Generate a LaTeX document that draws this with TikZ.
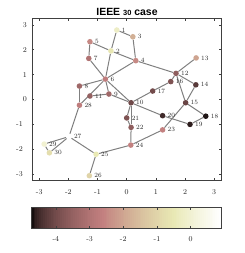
\documentclass[tikz,border=0pt]{standalone}
\usepackage{fontspec}
\newfontfamily\titlefont{Liberation Sans}
\usetikzlibrary{backgrounds}
\newcommand\pinkdef[2]{% #1 colour name, #2 t in [0,1] (MATLAB pink colormap)
  \pgfmathsetmacro\cR{sqrt((2*#2+min(1,8*#2/3))/3)}%
  \pgfmathsetmacro\cG{sqrt((2*#2+max(0,min(1,8*#2/3-1)))/3)}%
  \pgfmathsetmacro\cB{sqrt((2*#2+max(0,4*#2-3))/3)}%
  \edef\pinktmp{\noexpand\definecolor{#1}{rgb}{\cR,\cG,\cB}}\pinktmp}
\newcommand\busnode[3]{% #1 number, #2 position, #3 t
  \pinkdef{bus#1}{#3}%
  \node[bus, fill=bus#1, label={[buslabel]east:#1}] (b#1) at (#2) {};}
\begin{document}
\begin{tikzpicture}[x=1bp,y=-1bp,
  frame/.style={draw=black!75, line width=0.6bp},
  tickline/.style={draw=black!75, line width=0.5bp},
  ticklabel/.style={font=\fontsize{7.5}{8}\selectfont, text=black!85, inner sep=0pt},
  edge/.style={draw=black!50, line width=1bp},
  bus/.style={circle, minimum size=5.6bp, inner sep=0pt, draw=none},
  buslabel/.style={font=\fontsize{6.5}{7}\selectfont, text=black!85, inner sep=0.3pt, label distance=1.6bp}]
\path[use as bounding box] (0,0) rectangle (245,253);
% title
\node[anchor=base, inner sep=0pt, font=\titlefont\bfseries\fontsize{10.5}{12}\selectfont] (title) at (127,15)
  {IEEE {\fontsize{7.5}{9}\selectfont 30} case};
% axes frame and ticks
\draw[frame] (31.9,18.6) rectangle (221.5,180.4);
\foreach \v in {-3,...,3} {
  \pgfmathsetmacro\px{126.7+29.17*\v}
  \pgfmathsetmacro\py{99.5-24.9*\v}
  \draw[tickline] (\px,180.4) -- ++(0,-2.5);
  \draw[tickline] (\px,18.6) -- ++(0,2.5);
  \draw[tickline] (31.9,\py) -- ++(2.5,0);
  \draw[tickline] (221.5,\py) -- ++(-2.5,0);
  \node[ticklabel, anchor=base] (xl\v) at (\px,194.1) {\v};
  \ifnum\v<0
    \node[ticklabel, anchor=east] (yl\v) at (23,\py) {\v};
  \else
    \node[ticklabel, anchor=east] (yl\v) at (27,\py) {\v};
  \fi
}
% graph in data coordinates
\begin{scope}[shift={(126.7bp,-99.5bp)}, x=29.17bp, y=24.9bp]
\busnode{1}{-0.34,2.79}{0.80}
\busnode{2}{-0.54,1.95}{0.74}
\busnode{3}{0.21,2.52}{0.52}
\busnode{4}{0.31,1.56}{0.40}
\busnode{5}{-1.26,2.32}{0.40}
\busnode{6}{-0.73,0.82}{0.36}
\busnode{7}{-1.30,1.65}{0.305}
\busnode{8}{-1.62,0.54}{0.25}
\busnode{9}{-0.61,0.22}{0.25}
\busnode{10}{0.15,-0.13}{0.125}
\busnode{11}{-1.26,0.14}{0.22}
\busnode{12}{1.69,1.05}{0.20}
\busnode{13}{2.38,1.67}{0.48}
\busnode{14}{2.37,0.59}{0.077}
\busnode{15}{2.02,-0.13}{0.107}
\busnode{16}{1.51,0.72}{0.16}
\busnode{17}{0.89,0.34}{0.13}
\busnode{18}{2.71,-0.67}{0.01}
\busnode{19}{2.17,-1.0}{0.02}
\busnode{20}{1.23,-0.65}{0.04}
\busnode{21}{0.0,-0.74}{0.16}
\busnode{22}{0.15,-1.12}{0.20}
\busnode{23}{1.23,-1.22}{0.38}
\busnode{24}{0.14,-1.83}{0.38}
\busnode{25}{-1.05,-2.2}{0.75}
\busnode{26}{-1.28,-3.06}{0.66}
\busnode{27}{-1.98,-1.49}{1.0}
\busnode{28}{-1.62,-0.23}{0.36}
\busnode{29}{-2.83,-1.79}{0.84}
\busnode{30}{-2.65,-2.14}{0.70}
\end{scope}
\begin{pgfonlayer}{background}
\foreach \a/\b in {1/2,1/3,2/4,3/4,2/5,2/6,4/6,5/7,6/7,6/8,6/9,6/10,9/11,9/10,
  4/12,12/13,12/14,12/15,12/16,14/15,16/17,15/18,18/19,19/20,10/20,10/17,
  10/21,10/22,21/22,15/23,22/24,23/24,24/25,25/26,25/27,28/27,27/29,27/30,
  29/30,8/28,6/28}
  \draw[edge] (b\a) -- (b\b);
\end{pgfonlayer}
% colour bar
\foreach \i in {0,...,99} {
  \pgfmathsetmacro\myt{(\i+0.5)/100}
  \pinkdef{cbstrip}{\myt}
  \fill[cbstrip] (31.7+\i*1.893,207.3) rectangle (31.7+\i*1.893+1.95,228.7);
}
\draw[frame] (31.7,207.3) rectangle (221,228.7);
\foreach \v in {-4,...,0} {
  \pgfmathsetmacro\px{190.7+33.7*\v}
  \draw[tickline] (\px,207.3) -- ++(0,2.5);
  \draw[tickline] (\px,228.7) -- ++(0,-2.5);
  \node[ticklabel, anchor=base] (cl\v) at (\px,241.7) {\v};
}
\end{tikzpicture}
\end{document}
